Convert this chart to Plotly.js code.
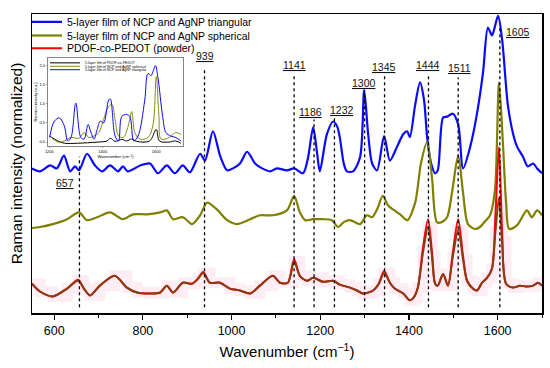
<!DOCTYPE html>
<html>
<head>
<meta charset="utf-8">
<script src="https://cdn.plot.ly/plotly-3.0.1.min.js"></script>
<style>html,body{margin:0;padding:0;background:#fff}#chart{width:550px;height:368px}</style>
</head>
<body>
<div id="chart"></div>
<script>
// ---------- DATA ----------
const peaks = [657, 939, 1141, 1186, 1232, 1300, 1345, 1444, 1511, 1605];

const seriesNames = [
  '5-layer film of NCP and AgNP triangular',
  '5-layer film of NCP and AgNP spherical',
  'PDOF-co-PEDOT (powder)'
];

// triangular (blue), offset, normalized
const triX = [550,568,591,606,622,636,647,656,674,692,708,726,744,755,766,794,816,834,854,872,890,906,929,940,958,974,990,1003,1019,1035,1053,1069,1087,1102,1125,1141,1161,1172,1184,1193,1199,1215,1229,1238,1244,1253,1260,1274,1290,1299,1308,1317,1328,1344,1357,1373,1387,1396,1402,1414,1425,1434,1441,1450,1459,1465,1477,1486,1499,1511,1522,1538,1553,1567,1578,1587,1592,1601,1610,1623,1635,1644,1657,1668,1680,1689,1700];
const triY = [1.48,1.45,1.51,1.48,1.61,1.45,1.50,1.46,1.63,1.51,1.45,1.51,1.45,1.50,1.45,1.51,1.53,1.43,1.51,1.43,1.51,1.44,1.63,1.56,1.86,1.61,1.46,1.48,1.53,1.65,1.53,1.48,1.45,1.48,1.46,1.48,1.43,1.58,1.90,1.63,1.45,1.83,1.96,1.91,1.80,1.53,1.45,1.45,1.60,2.28,1.83,1.53,1.46,1.81,1.56,1.70,1.83,1.86,1.80,2.13,2.36,2.18,1.80,1.53,1.43,1.46,2.00,2.01,2.04,1.93,1.48,1.70,2.03,2.46,2.92,2.84,2.90,3.04,2.80,2.13,1.83,1.70,1.60,1.50,1.53,1.48,1.43];

// spherical (olive)
const sphX = [550,568,597,629,656,674,697,726,755,778,809,839,854,868,890,911,929,945,967,990,1012,1042,1064,1093,1125,1141,1154,1166,1184,1206,1226,1240,1253,1267,1290,1305,1317,1330,1341,1353,1364,1380,1396,1414,1427,1441,1452,1463,1474,1486,1497,1511,1522,1533,1549,1560,1574,1583,1594,1603,1612,1619,1626,1644,1666,1677,1689,1700];
const sphY = [0.87,0.88,0.91,0.96,1.03,0.95,0.98,1.03,0.96,1.01,1.01,1.03,1.05,0.96,0.98,0.91,1.00,1.13,1.06,0.95,0.91,0.96,1.00,1.00,1.05,1.20,1.03,0.95,0.96,0.96,0.95,0.88,0.93,0.95,0.91,1.00,0.98,1.08,1.20,1.10,1.06,1.01,0.95,1.13,1.53,1.75,1.38,0.93,0.93,0.98,1.23,1.61,1.23,0.91,0.86,0.88,0.95,1.00,1.26,2.36,1.73,1.13,0.86,0.90,1.05,0.98,1.05,1.00];

// powder: smoothed (brown) and raw (red)
const powX = [550,568,597,629,654,667,681,703,737,764,787,816,839,854,868,890,911,924,936,951,974,996,1019,1042,1064,1093,1109,1127,1141,1154,1170,1184,1206,1229,1244,1267,1283,1296,1319,1332,1344,1357,1368,1387,1402,1411,1420,1432,1443,1452,1459,1465,1477,1488,1499,1511,1522,1531,1544,1553,1565,1576,1587,1595,1603,1610,1619,1635,1650,1666,1680,1691,1700];
const powSmoothY = [0.30,0.22,0.17,0.25,0.33,0.25,0.18,0.28,0.38,0.26,0.21,0.20,0.21,0.28,0.21,0.31,0.30,0.35,0.41,0.31,0.31,0.25,0.23,0.20,0.28,0.38,0.31,0.31,0.53,0.38,0.33,0.36,0.32,0.33,0.29,0.26,0.23,0.20,0.23,0.30,0.41,0.31,0.25,0.20,0.13,0.16,0.26,0.63,0.88,0.58,0.30,0.28,0.40,0.28,0.58,0.85,0.55,0.33,0.25,0.23,0.31,0.36,0.45,0.83,1.18,0.73,0.30,0.26,0.28,0.27,0.28,0.31,0.28];
const powRawY = [0.30,0.22,0.17,0.25,0.34,0.25,0.18,0.28,0.38,0.26,0.21,0.20,0.21,0.28,0.21,0.31,0.30,0.35,0.42,0.31,0.31,0.25,0.23,0.20,0.28,0.38,0.31,0.31,0.55,0.38,0.33,0.36,0.32,0.33,0.29,0.26,0.23,0.20,0.23,0.30,0.43,0.31,0.25,0.20,0.13,0.16,0.26,0.68,0.96,0.62,0.30,0.28,0.40,0.28,0.62,0.96,0.58,0.33,0.25,0.23,0.31,0.36,0.45,1.00,1.70,0.85,0.30,0.26,0.28,0.27,0.28,0.31,0.28];

// inset (a.u.)
const insetNames = [
  '5-layer film of PDOF-co-PEDOT',
  '5-layer film of NCP and AgNP spherical',
  '5-layer film of NCP and AgNP triangular'
];
const inTriX = [1201,1219,1238,1256,1269,1281,1299,1318,1330,1345,1354,1367,1379,1391,1403,1422,1428,1446,1459,1471,1489,1501,1516,1532,1557,1569,1581,1587,1597,1606,1624,1636,1654,1673,1692];
const inTriY = [0.12,0.55,0.63,0.42,0.03,0.12,1.02,0.12,0.08,0.46,0.29,0.08,0.33,0.55,0.50,1.10,1.13,0.16,0.03,0.67,0.72,0.67,0.03,0.16,1.10,1.79,1.74,1.83,2.00,1.70,0.67,0.25,0.16,0.12,0.03];
const inSphX = [1201,1232,1256,1281,1311,1330,1348,1367,1385,1403,1418,1434,1446,1459,1477,1495,1508,1520,1538,1569,1587,1600,1610,1618,1648,1673,1692];
const inSphY = [0.16,0.00,0.03,0.12,0.10,0.25,0.12,0.16,0.25,0.59,0.89,0.98,0.59,0.16,0.12,0.42,0.80,0.25,0.08,0.12,0.42,1.71,0.67,0.08,0.12,0.25,0.20];
const inPowX = [1201,1232,1256,1305,1379,1416,1428,1446,1471,1489,1508,1526,1575,1600,1612,1648,1673,1692];
const inPowY = [0.16,0.03,-0.03,-0.03,0.00,0.03,0.10,0.02,0.07,0.03,0.08,0.02,0.03,0.33,0.03,0.00,0.03,-0.03];

// ---------- LAYOUT HELPERS (positions / styling only) ----------
const lineTop = {657:1.60, 939:2.51, 1141:2.43, 1186:1.98, 1232:2.00, 1300:2.28, 1345:2.43, 1444:2.43, 1511:2.41, 1605:2.93};
const labelPos = {657:[624,1.33], 939:[940,2.63], 1141:[1141,2.54], 1186:[1179,2.06], 1232:[1249,2.08], 1300:[1299,2.35], 1345:[1344,2.52], 1444:[1443,2.54], 1511:[1513,2.51], 1605:[1646,2.88]};

const FONT = 'Liberation Sans, Arial, sans-serif';
const C_BLUE = '#0a0aff', C_OLIVE = '#7f7f00', C_RED = '#ff0000', C_BROWN = '#8b3a12';

const traces = [
  // faint pink band behind powder
  {x: powX, y: powSmoothY, type:'scatter', mode:'lines', line:{color:'rgba(255,175,215,0.22)', width:11, shape:'hv'}, showlegend:false, hoverinfo:'skip'},
  {x: triX, y: triY, type:'scatter', mode:'lines', name: seriesNames[0], line:{color:C_BLUE, width:2.2, shape:'spline', smoothing:0.8}, legend:'legend'},
  {x: sphX, y: sphY, type:'scatter', mode:'lines', name: seriesNames[1], line:{color:C_OLIVE, width:2.2, shape:'spline', smoothing:0.8}, legend:'legend2'},
  {x: powX, y: powRawY, type:'scatter', mode:'lines', name: seriesNames[2], line:{color:C_RED, width:2, shape:'spline', smoothing:0.8}, legend:'legend3'},
  {x: powX, y: powSmoothY, type:'scatter', mode:'lines', line:{color:C_BROWN, width:2, shape:'spline', smoothing:0.8}, showlegend:false},
  // inset
  {x: inPowX, y: inPowY, xaxis:'x2', yaxis:'y2', type:'scatter', mode:'lines', name: insetNames[0], line:{color:'#000', width:1, shape:'spline'}, legend:'legend4'},
  {x: inSphX, y: inSphY, xaxis:'x2', yaxis:'y2', type:'scatter', mode:'lines', name: insetNames[1], line:{color:'#8a8a10', width:1, shape:'spline'}, legend:'legend5'},
  {x: inTriX, y: inTriY, xaxis:'x2', yaxis:'y2', type:'scatter', mode:'lines', name: insetNames[2], line:{color:C_BLUE, width:1, shape:'spline'}, legend:'legend6'}
];

const shapes = peaks.map(p => ({
  type:'line', xref:'x', yref:'y', x0:p, x1:p, y0:0.06, y1:lineTop[p],
  line:{color:'#000', width:1.3, dash:'dot'}
}));

const annotations = peaks.map(p => ({
  xref:'x', yref:'y', x:labelPos[p][0], y:labelPos[p][1], text:'<u>'+p+'</u>',
  showarrow:false, font:{family:FONT, size:10.5, color:'#111'}, xanchor:'center', yanchor:'middle'
}));

function mainLegend(py) {
  return {x:(27-32)/510, y:(313-py)/306, xanchor:'left', yanchor:'middle', bgcolor:'rgba(0,0,0,0)',
          font:{family:FONT, size:10.5, color:'#000'}, borderwidth:0};
}
function insetLegend(py) {
  return {x:(45-32)/510, y:(313-py)/306, xanchor:'left', yanchor:'middle', bgcolor:'rgba(0,0,0,0)',
          font:{family:FONT, size:3.5, color:'#000'}, borderwidth:0};
}

const layout = {
  width:550, height:368,
  margin:{l:32, r:8, t:7, b:55},
  paper_bgcolor:'#fff', plot_bgcolor:'#fff',
  font:{family:FONT, color:'#000'},
  xaxis:{
    range:[550,1700], tick0:600, dtick:200, ticks:'outside', ticklen:5, tickwidth:1.2, tickcolor:'#000',
    minor:{dtick:100, tick0:600, ticks:'outside', ticklen:3, tickwidth:1, tickcolor:'#000'},
    showline:true, mirror:true, linecolor:'#000', linewidth:1.5, showgrid:false, zeroline:false,
    tickfont:{family:FONT, size:12.5}, title:{text:'Wavenumber (cm<sup>\u22121</sup>)', font:{family:FONT, size:15}, standoff:10}
  },
  yaxis:{
    range:[0,3.06], showticklabels:false, ticks:'', showline:true, mirror:true, linecolor:'#000', linewidth:1.5,
    showgrid:false, zeroline:false,
    title:{text:'Raman intensity (normalized)', font:{family:FONT, size:15.5}, standoff:4}
  },
  xaxis2:{
    domain:[(48-32)/510, (183-32)/510], anchor:'y2', range:[1195,1700], tickvals:[1200,1400,1600],
    ticks:'outside', ticklen:1.5, tickwidth:0.5, tickfont:{family:FONT, size:4},
    showline:true, mirror:true, linecolor:'#333', linewidth:0.6, showgrid:false, zeroline:false,
    title:{text:'Wavenumber (cm<sup>\u22121</sup>)', font:{family:FONT, size:4}, standoff:2}
  },
  yaxis2:{
    domain:[(313-142)/306, (313-52)/306], anchor:'x2', range:[-0.1,2.2], tickvals:[0,0.5,1,1.5,2], tickformat:'.1f',
    ticks:'outside', ticklen:1.5, tickwidth:0.5, tickfont:{family:FONT, size:4},
    showline:true, mirror:true, linecolor:'#333', linewidth:0.6, showgrid:false, zeroline:false,
    title:{text:'Raman intensity (a.u.)', font:{family:FONT, size:4}, standoff:1}
  },
  legend: mainLegend(15),
  legend2: mainLegend(29),
  legend3: mainLegend(42),
  legend4: insetLegend(57),
  legend5: insetLegend(60.5),
  legend6: insetLegend(64),
  shapes: shapes,
  annotations: annotations
};

Plotly.newPlot('chart', traces, layout, {staticPlot:true, displayModeBar:false});
</script>
</body>
</html>
